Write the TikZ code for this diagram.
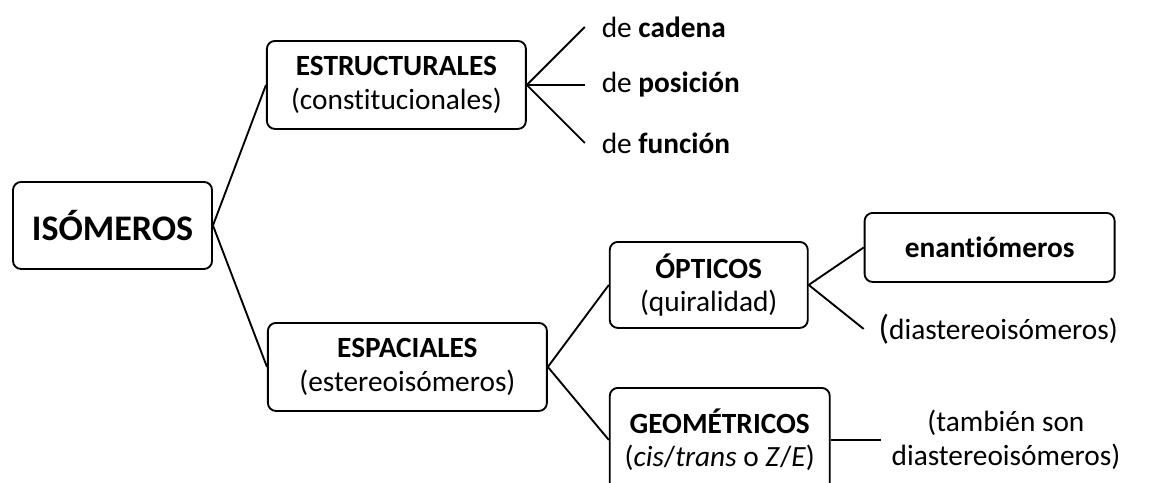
\documentclass[tikz,border=0pt]{standalone}
\usepackage{fontspec}
\setmainfont{Carlito}[Ligatures=NoCommon]
\usetikzlibrary{positioning}
\usetikzlibrary{calc}

\begin{document}
\begin{tikzpicture}
    [box/.style={rectangle, draw=black, rounded corners=6pt, line width=1.4pt, align=center, inner sep=0pt, font=\fontsize{22}{25}\selectfont},
leaf/.style={font=\fontsize{22}{25}\selectfont, inner ysep=0pt, inner xsep=12.5pt},
branch/.style={line width=1.4pt}
]

\node[box, minimum width=149.25pt, minimum height=65.25pt, font=\fontsize{27}{32}\selectfont\bfseries](isomeros){ISÓMEROS};

\node[box, minimum width=194.25pt, minimum height=66pt](estruct)[right=39.75pt of isomeros, yshift=105.4pt]{\textbf{ESTRUCTURALES}\\(constitucionales)};
\node[box, minimum width=209.25pt, minimum height=66pt](espac)[right=40.5pt of isomeros, yshift=-106.1pt]{\textbf{ESPACIALES}\\(estereoisómeros)};

\node[leaf](cadena)[right=43.5pt of estruct, yshift=43.5pt]{de \textbf{cadena}};
\node[leaf](posicion)[right=43.5pt of estruct]{de \textbf{posición}};
\node[leaf](funcion)[right=43.5pt of estruct, yshift=-43.5pt]{de \textbf{función}};

\node[box, minimum width=148.5pt, minimum height=64.5pt](opticos)[right=45.75pt of espac, yshift=61.5pt]{\textbf{ÓPTICOS}\\(quiralidad)};
\node[box, minimum width=165pt, minimum height=78pt](geomet)[right=45.75pt of espac, yshift=-54.75pt]{\textbf{GEOMÉTRICOS}\\(\textit{cis}/\textit{trans} o \textit{Z}/\textit{E})};

\node[box, minimum width=187.5pt, minimum height=51.75pt](enantio)[right=41.25pt of opticos, yshift=28.1pt]{\textbf{enantiómeros}};
\node[leaf, inner xsep=11pt](diaster)[right=41.25pt of opticos, yshift=-33pt]{{\fontsize{26}{26}\selectfont(}diastereoisómeros)};
\node[leaf, align=center, inner xsep=8pt, font=\fontsize{22}{26}\selectfont](tambien)[right=37.5pt of geomet]{(también son\\diastereoisómeros)};

\draw[branch] (isomeros.east) -- (estruct.west);
\draw[branch] (isomeros.east) -- (espac.west);
\draw[branch] (estruct.east) -- (cadena.west);
\draw[branch] (estruct.east) -- (posicion.west);
\draw[branch] (estruct.east) -- (funcion.west);
\draw[branch] (espac.east) -- (opticos.west);
\draw[branch] (espac.east) -- (geomet.west);
\draw[branch] (opticos.east) -- (enantio.west);
\draw[branch] (opticos.east) -- (diaster.west);
\draw[branch] (geomet.east) -- (tambien.west);

\pgfresetboundingbox
\useasboundingbox ($(isomeros.center)+(-84.4pt,169.1pt)$) rectangle ($(isomeros.center)+(784.1pt,-193.1pt)$);

\end{tikzpicture}
\end{document}
